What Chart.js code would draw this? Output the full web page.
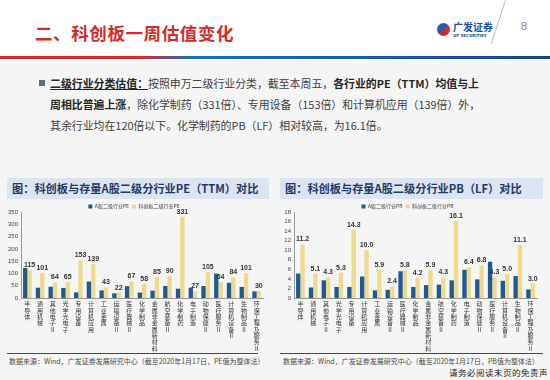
<!DOCTYPE html>
<html lang="zh">
<head>
<meta charset="utf-8">
<script src="https://cdn.jsdelivr.net/npm/chart.js"></script>
<style>
  body { margin: 0; width: 550px; height: 380px; background: #f5f5f5; font-family: "Noto Sans CJK SC", "Noto Sans", sans-serif; position: relative; overflow: hidden; }
  .abs { position: absolute; }
  #header { left: 0; top: 0; width: 550px; height: 60px; background: #fff; }
  #title { left: 35px; top: 20px; font-size: 17.5px; font-weight: bold; color: #d62a2a; letter-spacing: 0.6px; }
  #bar { left: 0; top: 56px; width: 550px; height: 3px; background: linear-gradient(to right, #d8282c 0%, #d8282c 25%, #1b6fb5 35%, #16467f 100%); }
  #logoIcon { left: 437px; top: 23px; width: 13px; height: 13px; border-radius: 50%; background: linear-gradient(135deg, #1b5fae 45%, #d8282c 55%); }
  #logoTxt { left: 453px; top: 21px; font-size: 10px; font-weight: bold; color: #1a4f9c; line-height: 11px; }
  #logoSub { left: 453px; top: 33px; font-size: 4px; font-weight: bold; color: #1a4f9c; font-family: "DejaVu Sans"; }
  #slash { left: 505px; top: 0px; width: 1px; height: 46px; background: #bbb; transform: rotate(18deg); transform-origin: top left; }
  #pageNo { left: 521px; top: 20px; font-size: 11px; color: #888; font-family: "Liberation Sans"; }
  #bullet { left: 39px; top: 80px; width: 6px; height: 6px; background: #4e6e93; }
  #para { left: 50px; top: 73px; white-space: nowrap; font-size: 10.9px; line-height: 21px; color: #404040; }
  #para b { color: #262626; }
  .u { text-decoration: underline; font-weight: bold; color: #262626; }
  .ptitle { top: 178px; height: 21px; background: #dbe4f0; font-size: 11.2px; font-weight: bold; color: #1f3a66; line-height: 21px; padding-left: 5px; box-sizing: border-box; }
  .box { top: 201px; width: 270px; height: 152px; }
  .rule { top: 353px; height: 1px; background: #2f4a74; }
  .src { top: 356px; font-size: 7px; color: #4a4a4a; }
  #disc { left: 449px; top: 366px; font-size: 8.5px; color: #222; font-family: "Noto Sans CJK SC"; letter-spacing: 0.5px; }
</style>
</head>
<body>
<div id="header" class="abs"></div>
<div id="title" class="abs">二、科创板一周估值变化</div>
<div id="bar" class="abs"></div>
<div id="logoIcon" class="abs"></div>
<div id="logoTxt" class="abs">广发证券</div>
<div id="logoSub" class="abs">GF SECURITIES</div>
<div id="slash" class="abs"></div>
<div id="pageNo" class="abs">8</div>

<div id="bullet" class="abs"></div>
<div id="para" class="abs"><span class="u">二级行业分类估值：</span>按照申万二级行业分类，截至本周五，<b>各行业的PE（TTM）均值与上</b><br><b>周相比普遍上涨</b>，除化学制药（331倍）、专用设备（153倍）和计算机应用（139倍）外，<br>其余行业均在120倍以下。化学制药的PB（LF）相对较高，为16.1倍。</div>

<div class="abs ptitle" style="left:7px;width:262px;">图：科创板与存量A股二级分行业PE（TTM）对比</div>
<div class="abs ptitle" style="left:280px;width:263px;">图：科创板与存量A股二级分行业PB（LF）对比</div>

<div class="abs box" style="left:3px;"><canvas id="pe"></canvas></div>
<div class="abs box" style="left:276px;"><canvas id="pb"></canvas></div>

<div class="abs rule" style="left:7px;width:251px;"></div>
<div class="abs rule" style="left:280px;width:263px;"></div>
<div class="abs src" style="left:9px;">数据来源：Wind，广发证券发展研究中心（截至2020年1月17日，PE值为整体法）</div>
<div class="abs src" style="left:283px;">数据来源：Wind，广发证券发展研究中心（截至2020年1月17日，PB值为整体法）</div>
<div id="disc" class="abs">请务必阅读末页的免责声明</div>

<script>
    const industries = ["半导体", "通用机械", "其他电子Ⅱ", "光学光电子", "专用设备", "计算机应用", "工业金属", "运输设备Ⅱ", "医疗器械Ⅱ", "化学制品", "金属非金属新材料", "航空装备Ⅱ", "化学制药", "电子制造", "动物保健Ⅱ", "医疗服务Ⅱ", "计算机设备Ⅱ", "生物制品Ⅱ", "环保工程及服务Ⅱ"];

    const peAShare = [122, 42, 46, 41, 23, 67, 31, 19, 48, 22, 30, 49, 38, 42, 49, 99, 62, 45, 27];
    const peStar = [115, 101, 64, 65, 153, 139, 43, 22, 67, 58, 85, 90, 331, 27, 105, 64, 84, 101, 30];

    const pbAShare = [5.1, 2.2, 3.7, 2.3, 2.3, 4.5, 1.6, 1.7, 5.6, 2.3, 2.7, 2.8, 3.7, 5.9, 3.9, 7.6, 3.6, 4.6, 1.8];
    const pbStar = [11.2, 5.1, 4.3, 5.3, 14.3, 10.0, 5.9, 2.4, 5.8, 4.2, 5.9, 4.3, 16.1, 6.4, 6.8, 4.3, 5.0, 11.1, 3.0];

    const blue = '#1f5a92';
    const yellow = '#efd98b';

    // each label split into single characters so they stack vertically
    const stackedLabels = industries.map(function(s) { return s.split(''); });

    // value labels above the STAR market bars
    const valueLabels = {
        id: 'valueLabels',
        afterDatasetsDraw: function(chart, args, opts) {
            var ctx = chart.ctx;
            var meta = chart.getDatasetMeta(1);
            var data = chart.data.datasets[1].data;
            ctx.save();
            ctx.font = 'bold 7px "Liberation Sans"';
            ctx.fillStyle = '#333';
            ctx.textAlign = 'center';
            ctx.textBaseline = 'bottom';
            meta.data.forEach(function(bar, i) {
                var v = opts.decimals ? data[i].toFixed(opts.decimals) : String(data[i]);
                ctx.fillText(v, bar.x, bar.y - 1.5);
            });
            ctx.restore();
        }
    };

    // legend sits very close to the plot in the original
    const tightLegend = {
        id: 'tightLegend',
        beforeInit: function(chart) {
            var fit = chart.legend.fit;
            chart.legend.fit = function() {
                fit.call(this);
                this.height -= 7;
            };
        }
    };

    function makeChart(id, aData, starData, aName, starName, max, step, decimals, padRight) {
        return new Chart(document.getElementById(id), {
            type: 'bar',
            data: {
                labels: stackedLabels,
                datasets: [
                    { label: aName, data: aData, backgroundColor: blue, categoryPercentage: 0.68, barPercentage: 1.0 },
                    { label: starName, data: starData, backgroundColor: yellow, categoryPercentage: 0.68, barPercentage: 1.0 }
                ]
            },
            options: {
                responsive: true,
                maintainAspectRatio: false,
                animation: false,
                layout: { padding: { left: 2, right: padRight, top: 0, bottom: 0 } },
                plugins: {
                    legend: {
                        position: 'top',
                        labels: { boxWidth: 4, boxHeight: 4, padding: 3, font: { size: 5, family: 'Noto Sans CJK SC' }, color: '#444' }
                    },
                    tooltip: { enabled: false },
                    valueLabels: { decimals: decimals }
                },
                scales: {
                    x: {
                        grid: { display: false, drawTicks: false },
                        border: { color: '#999' },
                        afterFit: function(scale) { scale.height = 55; },
                        ticks: { autoSkip: false, maxRotation: 0, minRotation: 0, padding: 3, font: { size: 6, lineHeight: 1.05, family: 'Noto Sans CJK SC' }, color: '#333' }
                    },
                    y: {
                        min: 0, max: max,
                        grid: { display: false, drawTicks: false },
                        border: { color: '#999' },
                        afterFit: function(scale) { scale.width = 16; },
                        ticks: { stepSize: step, autoSkip: false, padding: 3, font: { size: 6, family: 'Liberation Sans' }, color: '#444' }
                    }
                }
            },
            plugins: [valueLabels, tightLegend]
        });
    }

    makeChart('pe', peAShare, peStar, 'A股二级行业PE', '科创板二级行业PE', 350, 50, 0, 10);
    makeChart('pb', pbAShare, pbStar, 'A股二级行业PB', '科创板二级行业PB', 18, 2, 1, 9);
</script>
</body>
</html>
